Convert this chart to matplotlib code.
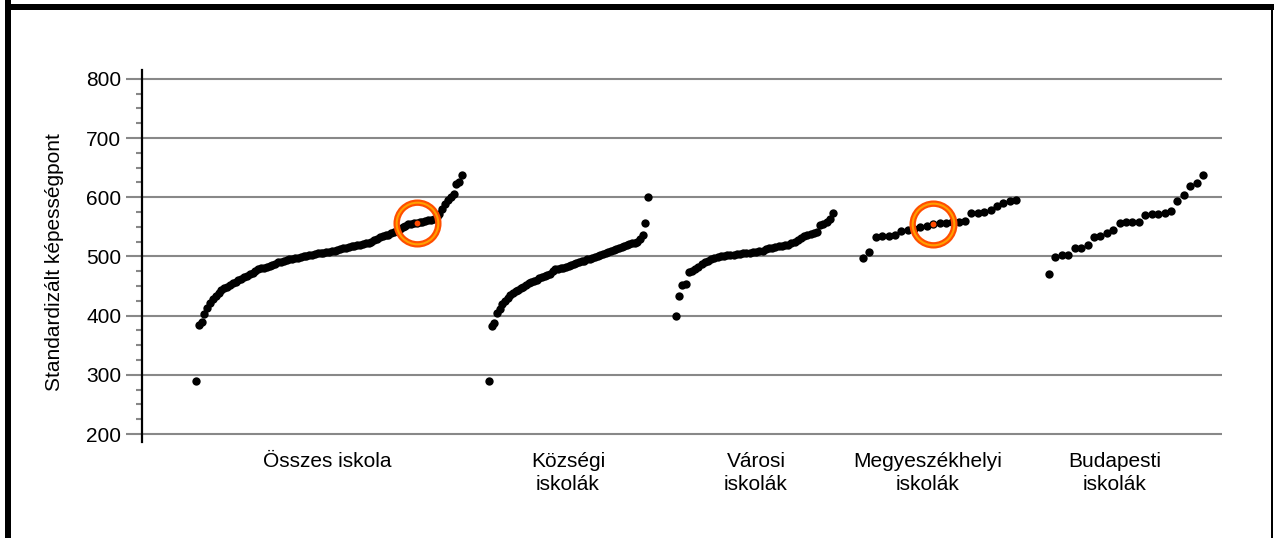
import numpy as np
import matplotlib
matplotlib.use("Agg")
import matplotlib.pyplot as plt
from matplotlib.patches import Rectangle

plt.rcParams['font.family'] = ['Liberation Sans', 'DejaVu Sans']

groups = ["Összes iskola", "Községi\niskolák", "Városi\niskolák",
          "Megyeszékhelyi\niskolák", "Budapesti\niskolák"]

# sorted school scores per group
osszes = [289, 384, 390, 402, 413, 421, 428, 434, 439, 443, 446, 449, 452, 455,
          457, 460, 462, 465, 467, 470, 472, 475, 478, 480, 481, 483, 484, 486,
          488, 490, 491, 492, 494, 495, 496, 497, 498, 499, 500, 501, 502, 503,
          504, 505, 506, 506, 507, 508, 509, 510, 511, 512, 514, 515, 516, 517,
          518, 519, 520, 521, 522, 523, 525, 527, 530, 533, 535, 536, 537, 539,
          541, 544, 547, 550, 552, 554, 555, 556, 557, 558, 559, 560, 561, 562,
          564, 567, 572, 580, 588, 595, 601, 605, 622, 626, 638]
kozsegi = [289, 383, 387, 404, 412, 419, 425, 430, 435, 438, 441, 444, 447, 449,
           452, 455, 457, 459, 461, 463, 465, 467, 469, 471, 475, 478, 479, 480,
           481, 483, 484, 486, 487, 489, 490, 492, 493, 495, 496, 498, 499, 501,
           502, 504, 506, 507, 509, 511, 512, 514, 516, 518, 519, 521, 522, 523,
           524, 530, 537, 556, 601]
varosi = [400, 434, 451, 453, 473, 476, 479, 482, 487, 491, 493, 495, 497, 499,
          500, 501, 502, 502, 503, 504, 504, 505, 506, 506, 507, 508, 509, 510,
          512, 514, 515, 516, 517, 518, 519, 520, 522, 525, 528, 531, 534, 536,
          538, 540, 541, 553, 555, 558, 563, 574]
megyeszekhelyi = [498, 507, 533, 535, 535, 537, 543, 544, 546, 549, 552, 554,
                  556, 557, 558, 559, 560, 573, 573, 575, 579, 585, 591, 593, 595]
budapesti = [470, 499, 503, 503, 515, 515, 519, 533, 534, 540, 544, 556, 558,
             558, 558, 570, 571, 572, 574, 576, 594, 603, 619, 624, 637]

series = [osszes, kozsegi, varosi, megyeszekhelyi, budapesti]
highlight = {0: 78, 3: 11}

# layout: horizontal extent of each group and label positions (axis units)
spans = [(54, 320), (347, 506), (534, 691), (721, 874), (907, 1061)]
label_x = [185, 426, 614, 786, 973]

W, H = 1274, 538
fig = plt.figure(figsize=(W / 100, H / 100), dpi=100)
ax = fig.add_axes([142 / W, (H - 442) / H, 1080 / W, 372 / H])

grid_c = '#888888'
for g, vals in enumerate(series):
    xs = np.linspace(spans[g][0], spans[g][1], len(vals))
    ax.scatter(xs, vals, s=36, color='black', linewidths=0, zorder=3)
    if g in highlight:
        i = highlight[g]
        ax.plot(xs[i], vals[i], 'o', ms=4.2, color='#ff4a00', mec='none', zorder=5)
        ax.plot(xs[i], vals[i], 'o', ms=30, mfc='none', mec='#ff4e00', mew=4.6, zorder=6)
        ax.plot(xs[i], vals[i], 'o', ms=30, mfc='none', mec='#ffa000', mew=1.5, zorder=7)

ax.set_xlim(0, 1080)
ax.set_ylim(186.5, 815)
ax.set_yticks(range(200, 801, 100))
ax.set_yticks(range(200, 801, 25), minor=True)
ax.yaxis.grid(True, color=grid_c, linewidth=1.5)
ax.set_axisbelow(True)
ax.tick_params(axis='y', which='major', length=11.5, width=1.5, color=grid_c,
               labelsize=15, pad=3.5)
ax.tick_params(axis='y', which='minor', length=4, width=1.5, color=grid_c)

ax.set_xticks(label_x)
ax.set_xticklabels(groups, fontsize=15, linespacing=1.3)
ax.tick_params(axis='x', length=0, pad=7)

for s in ['top', 'right', 'bottom']:
    ax.spines[s].set_visible(False)
ax.spines['left'].set_linewidth(1.6)
ax.spines['left'].set_color('black')

fig.text(55 / W, 1 - 262 / H, "Standardizált képességpont", rotation=90,
         ha='center', va='center', fontsize=15)

# frame around the figure
fig.add_artist(Rectangle((5 / W, 0), 6 / W, 1, transform=fig.transFigure,
                         color='black', lw=0))
fig.add_artist(Rectangle((5 / W, 1 - 10 / H), 1 - 5 / W, 6 / H,
                         transform=fig.transFigure, color='black', lw=0))
fig.add_artist(Rectangle((1271 / W, 0), 2 / W, 1 - 4 / H,
                         transform=fig.transFigure, color='black', lw=0))

fig.savefig('out.png', dpi=100)
